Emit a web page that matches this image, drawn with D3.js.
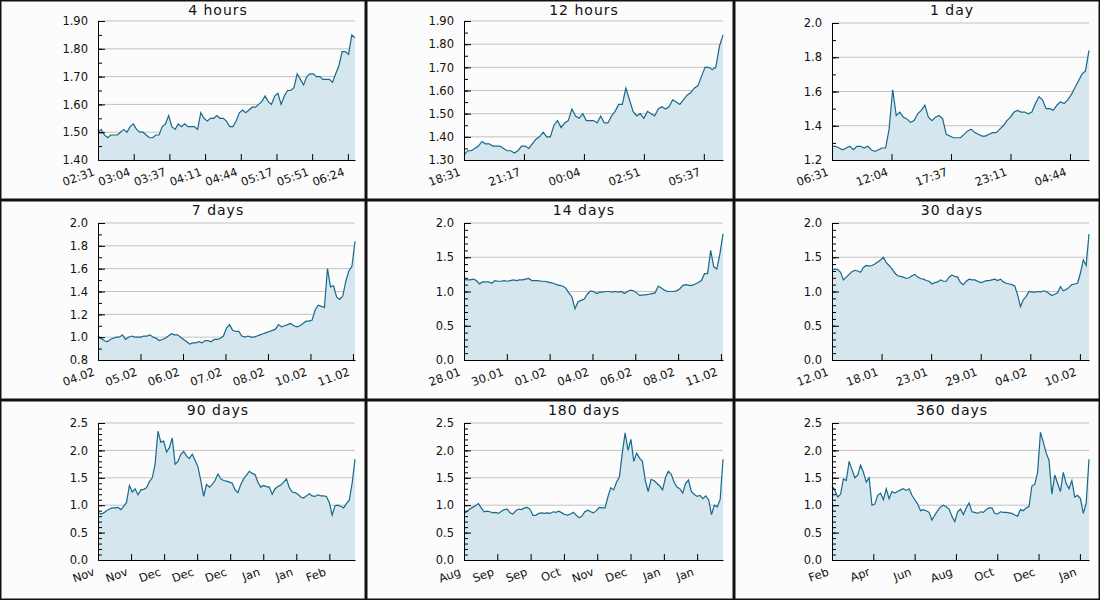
<!DOCTYPE html>
<html lang="en">
<head>
<meta charset="UTF-8">
<script src="https://d3js.org/d3.v7.min.js"></script>
<style>
  html, body { margin: 0; padding: 0; background: #fff; }
  #chart { display: block; }
</style>
</head>
<body>
<svg id="chart" width="1100" height="600"></svg>
<script>
//
// Panel settings.
//
const titles = ['4 hours', '12 hours', '1 day', '7 days', '14 days', '30 days', '90 days', '180 days', '360 days'];
const spanHours = [4, 12, 24, 168, 336, 720, 2160, 4320, 8640];
const tickStepSec = [2000, 10000, 20000, 100000, 200000, 500000, 1000000, 2000000, 5000000];
const tickLabels = [
  ['02:31', '03:04', '03:37', '04:11', '04:44', '05:17', '05:51', '06:24'],
  ['18:31', '21:17', '00:04', '02:51', '05:37'],
  ['06:31', '12:04', '17:37', '23:11', '04:44'],
  ['04.02', '05.02', '06.02', '07.02', '08.02', '10.02', '11.02'],
  ['28.01', '30.01', '01.02', '04.02', '06.02', '08.02', '11.02'],
  ['12.01', '18.01', '23.01', '29.01', '04.02', '10.02'],
  ['Nov', 'Nov', 'Dec', 'Dec', 'Dec', 'Jan', 'Jan', 'Feb'],
  ['Aug', 'Sep', 'Sep', 'Oct', 'Nov', 'Dec', 'Jan', 'Jan'],
  ['Feb', 'Apr', 'Jun', 'Aug', 'Oct', 'Dec', 'Jan']
];
const yDomains = [[1.4, 1.9], [1.3, 1.9], [1.2, 2.0], [0.8, 2.0], [0, 2], [0, 2], [0, 2.5], [0, 2.5], [0, 2.5]];
const yMajor = [0.1, 0.1, 0.2, 0.2, 0.5, 0.5, 0.5, 0.5, 0.5];
const yMinor = [0.05, 0.05, 0.1, 0.1, 0.1, 0.1, 0.1, 0.1, 0.1];
const yDecimals = [2, 2, 1, 1, 1, 1, 1, 1, 1];
const endTime = Date.UTC(2018, 1, 11, 6, 31);

//
// Series, evenly spaced over each panel's span.
//
const values4h = [1.50,1.51,1.49,1.48,1.49,1.49,1.49,1.50,1.51,1.50,
  1.52,1.53,1.51,1.50,1.50,1.49,1.48,1.48,1.49,1.49,
  1.52,1.53,1.56,1.52,1.51,1.53,1.52,1.53,1.52,1.52,
  1.52,1.51,1.57,1.55,1.54,1.55,1.55,1.56,1.55,1.55,
  1.54,1.52,1.52,1.54,1.57,1.58,1.57,1.58,1.59,1.59,
  1.60,1.61,1.63,1.61,1.60,1.63,1.64,1.60,1.63,1.65,
  1.65,1.66,1.71,1.69,1.67,1.70,1.71,1.71,1.70,1.70,
  1.69,1.69,1.69,1.68,1.71,1.74,1.79,1.79,1.78,1.85,
  1.84];
const values12h = [1.32,1.34,1.34,1.35,1.36,1.38,1.37,1.37,1.36,1.36,
  1.36,1.35,1.34,1.34,1.33,1.34,1.36,1.36,1.35,1.37,
  1.39,1.40,1.42,1.40,1.40,1.45,1.47,1.44,1.46,1.47,
  1.52,1.49,1.48,1.50,1.47,1.47,1.47,1.46,1.49,1.46,
  1.46,1.49,1.51,1.54,1.54,1.61,1.56,1.51,1.49,1.50,
  1.48,1.51,1.50,1.49,1.52,1.53,1.52,1.53,1.56,1.55,
  1.54,1.56,1.58,1.59,1.61,1.62,1.66,1.70,1.70,1.69,
  1.70,1.79,1.84];
const values1d = [1.28,1.28,1.27,1.26,1.27,1.28,1.26,1.28,1.28,1.27,
  1.28,1.26,1.25,1.26,1.27,1.27,1.38,1.61,1.46,1.48,
  1.45,1.44,1.42,1.43,1.47,1.49,1.52,1.45,1.43,1.45,
  1.46,1.44,1.35,1.34,1.33,1.33,1.33,1.35,1.37,1.38,
  1.36,1.35,1.34,1.34,1.35,1.36,1.36,1.38,1.40,1.43,
  1.45,1.48,1.49,1.48,1.48,1.47,1.48,1.53,1.57,1.55,
  1.50,1.50,1.49,1.52,1.54,1.53,1.55,1.58,1.62,1.66,
  1.70,1.72,1.84];
const values7d = [1.01,0.99,0.97,0.96,0.98,0.99,1.00,1.00,1.02,0.98,
  1.00,1.01,1.00,1.00,1.00,1.01,1.01,1.02,1.00,0.99,
  0.97,0.98,0.99,1.01,1.03,1.02,1.02,1.00,0.98,0.96,
  0.94,0.95,0.95,0.96,0.95,0.97,0.97,0.96,0.98,0.98,
  0.99,1.01,1.08,1.11,1.06,1.05,1.05,1.01,1.00,1.01,
  1.00,1.00,1.01,1.02,1.03,1.04,1.05,1.06,1.07,1.11,
  1.09,1.10,1.11,1.12,1.10,1.09,1.10,1.12,1.14,1.14,
  1.15,1.24,1.28,1.27,1.26,1.60,1.44,1.45,1.35,1.33,
  1.36,1.49,1.58,1.62,1.84];
const values14d = [1.18,1.17,1.17,1.18,1.16,1.11,1.14,1.14,1.14,1.12,
  1.16,1.15,1.15,1.16,1.15,1.16,1.17,1.16,1.17,1.17,
  1.18,1.19,1.16,1.16,1.16,1.15,1.15,1.14,1.13,1.12,
  1.10,1.09,1.08,1.05,0.98,0.92,0.75,0.85,0.87,0.89,
  0.96,1.01,1.00,0.97,0.99,0.99,1.00,1.00,0.99,1.00,
  0.99,1.00,0.97,1.00,1.02,1.01,0.98,0.94,0.95,0.95,
  0.96,0.97,0.98,1.08,1.05,1.02,1.00,1.00,1.00,1.01,
  1.04,1.09,1.10,1.09,1.09,1.11,1.13,1.16,1.26,1.26,
  1.60,1.36,1.33,1.55,1.84];
const values30d = [1.31,1.33,1.32,1.28,1.17,1.21,1.25,1.29,1.31,1.30,
  1.28,1.35,1.38,1.37,1.38,1.40,1.43,1.46,1.50,1.42,
  1.38,1.33,1.27,1.23,1.22,1.21,1.19,1.20,1.23,1.25,
  1.21,1.19,1.18,1.16,1.15,1.11,1.13,1.14,1.17,1.15,
  1.15,1.21,1.24,1.22,1.21,1.13,1.10,1.15,1.18,1.17,
  1.17,1.15,1.13,1.14,1.16,1.16,1.17,1.18,1.16,1.18,
  1.14,1.12,1.11,1.10,1.08,0.95,0.78,0.88,0.93,1.00,
  0.99,0.99,1.00,0.99,1.01,1.00,0.97,0.94,0.96,0.98,
  1.07,1.01,1.03,1.06,1.10,1.11,1.12,1.27,1.46,1.38,
  1.84];
const values90d = [0.87,0.84,0.86,0.90,0.93,0.95,0.95,0.96,0.92,0.98,
  1.05,1.36,1.24,1.30,1.19,1.28,1.29,1.32,1.43,1.50,
  1.75,2.35,2.15,2.17,1.97,2.05,2.23,1.75,1.80,1.93,
  1.98,1.90,1.85,1.93,1.82,1.70,1.45,1.16,1.38,1.33,
  1.38,1.45,1.57,1.48,1.45,1.44,1.42,1.40,1.28,1.23,
  1.38,1.48,1.55,1.62,1.58,1.56,1.42,1.33,1.36,1.34,
  1.33,1.20,1.30,1.34,1.37,1.42,1.48,1.32,1.24,1.23,
  1.20,1.15,1.13,1.17,1.21,1.17,1.16,1.19,1.17,1.17,
  1.16,1.05,0.82,0.99,1.00,0.98,0.95,1.03,1.09,1.40,
  1.84];
const values180d = [0.85,0.88,0.93,0.96,0.99,1.03,0.95,0.88,0.89,0.88,
  0.86,0.87,0.85,0.89,0.92,0.93,0.86,0.84,0.90,0.93,
  0.92,0.95,0.96,0.92,0.81,0.82,0.85,0.86,0.85,0.86,
  0.85,0.88,0.87,0.89,0.86,0.83,0.82,0.84,0.87,0.82,
  0.77,0.80,0.88,0.91,0.88,0.86,0.90,0.96,0.95,0.95,
  1.15,1.32,1.28,1.42,1.52,1.95,2.32,2.00,2.20,1.80,
  1.95,1.86,1.80,1.45,1.25,1.47,1.45,1.40,1.35,1.28,
  1.50,1.62,1.57,1.42,1.33,1.30,1.22,1.40,1.46,1.25,
  1.20,1.16,1.18,1.12,1.17,1.10,0.83,1.00,0.97,1.10,
  1.84];
const values360d = [1.35,1.27,1.15,1.20,1.48,1.45,1.80,1.65,1.50,1.55,
  1.73,1.60,1.42,1.50,1.00,1.02,1.18,1.22,1.10,1.30,
  1.12,1.25,1.22,1.25,1.28,1.30,1.27,1.30,1.18,1.10,
  1.02,0.90,0.92,0.90,0.87,0.73,0.82,0.90,0.97,1.00,
  0.97,0.93,0.80,0.70,0.88,0.93,0.83,0.95,1.04,0.88,
  0.87,0.85,0.88,0.87,0.92,0.95,0.95,0.85,0.84,0.88,
  0.87,0.87,0.86,0.85,0.82,0.80,0.92,0.90,0.95,0.98,
  1.35,1.38,1.60,2.33,2.15,1.95,1.82,1.20,1.55,1.40,
  1.25,1.60,1.40,1.30,1.45,1.15,1.18,1.12,0.85,1.03,
  1.84];
const series = [values4h, values12h, values1d, values7d, values14d, values30d, values90d, values180d, values360d];

let svg = d3.select('#chart');
let colX = [0, 366, 734];
let colW = [366, 368, 366];
let rowY = [0, 200, 400];
let rowH = 200;

function steps(lo, hi, step) {
  let n = Math.round((hi - lo) / step);
  return d3.range(n + 1).map(k => +(lo + k * step).toFixed(4));
}

titles.forEach((title, i) => {
  let col = i % 3, row = Math.floor(i / 3);
  let w = colW[col];
  let g = svg.append('g').attr('transform', `translate(${colX[col]},${rowY[row]})`);

  g.append('rect')
    .attr('width', w)
    .attr('height', rowH)
    .attr('fill', '#fcfcfc');

  let left = 98, right = w - 11, bottom = 160;
  let top = yDecimals[i] === 2 ? 21 : 23;
  let start = endTime - spanHours[i] * 3600e3;
  let [lo, hi] = yDomains[i];

  let x = d3.scaleUtc().domain([new Date(start), new Date(endTime)]).range([left, right]);
  let y = d3.scaleLinear().domain([lo, hi]).range([bottom, top]);

  let vals = series[i];
  let data = vals.map((v, k) => ({
    t: new Date(start + k * (endTime - start) / (vals.length - 1)),
    v: v
  }));

  // grid lines at major ticks
  let major = steps(lo, hi, yMajor[i]);
  g.selectAll('line.grid')
    .data(major.slice(1))
    .enter()
    .append('line')
    .attr('class', 'grid')
    .attr('x1', left)
    .attr('x2', right)
    .attr('y1', d => y(d))
    .attr('y2', d => y(d))
    .attr('stroke', '#c2c2c2')
    .attr('stroke-width', 1);

  g.append('path')
    .datum(data)
    .attr('fill', '#d5e6ee')
    .attr('d', d3.area().x(d => x(d.t)).y0(y(lo)).y1(d => y(d.v)));

  g.append('path')
    .datum(data)
    .attr('fill', 'none')
    .attr('stroke', '#17698b')
    .attr('stroke-width', 1.2)
    .attr('d', d3.line().x(d => x(d.t)).y(d => y(d.v)));

  // y axis, ticks pointing inward
  let minor = steps(lo, hi, yMinor[i]);
  g.append('g')
    .attr('transform', `translate(${left},0)`)
    .call(d3.axisLeft(y).tickValues(minor).tickSizeInner(-4).tickSizeOuter(0).tickFormat(''))
    .call(a => a.select('.domain').remove());

  let fmt = d3.format(`.${yDecimals[i]}f`);
  let yAxis = g.append('g')
    .attr('transform', `translate(${left},0)`)
    .call(d3.axisLeft(y).tickValues(major).tickSizeInner(-7).tickSizeOuter(0).tickPadding(10).tickFormat(fmt));
  yAxis.selectAll('text')
    .attr('font-family', '"DejaVu Sans", sans-serif')
    .attr('font-size', '11.5px')
    .attr('fill', '#111');

  // x axis with rotated labels
  let tickTimes = tickLabels[i].map((_, k) => new Date(start + k * tickStepSec[i] * 1000));
  let xAxis = g.append('g')
    .attr('transform', `translate(0,${bottom})`)
    .call(d3.axisBottom(x).tickValues(tickTimes).tickSizeInner(-6).tickSizeOuter(0)
      .tickFormat((d, k) => tickLabels[i][k]));
  xAxis.selectAll('text')
    .attr('x', 0)
    .attr('y', 0)
    .attr('dy', 0)
    .attr('text-anchor', 'end')
    .attr('transform', 'translate(-3,15) rotate(-20)')
    .attr('font-family', '"DejaVu Sans", sans-serif')
    .attr('font-size', '11.5px')
    .attr('fill', '#111');

  g.append('text')
    .attr('x', 218)
    .attr('y', 15)
    .attr('text-anchor', 'middle')
    .attr('font-family', '"DejaVu Sans", sans-serif')
    .attr('font-size', '14px')
    .attr('letter-spacing', '1px')
    .attr('fill', '#111')
    .text(title);

  g.append('rect')
    .attr('x', 0.75)
    .attr('y', 0.75)
    .attr('width', w - 1.5)
    .attr('height', rowH - 1.5)
    .attr('fill', 'none')
    .attr('stroke', '#111')
    .attr('stroke-width', 1.5);
});
</script>
</body>
</html>
